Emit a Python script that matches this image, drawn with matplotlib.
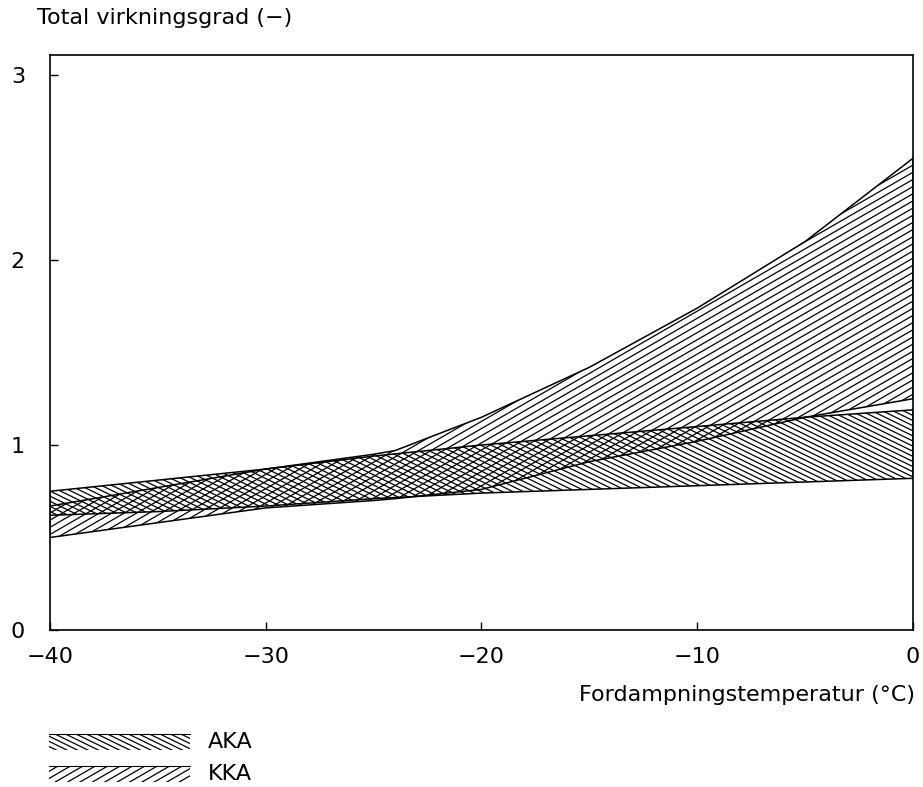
import numpy as np
import matplotlib

matplotlib.use("Agg")
import matplotlib.pyplot as plt
from matplotlib.patches import Polygon
from matplotlib.collections import LineCollection
from matplotlib.transforms import IdentityTransform

plt.rcParams["font.family"] = ["DejaVu Sans"]

# data
aka_temp = [-40, -35, -30, -25, -20, -15, -10, -5, 0]
aka_low = [0.62, 0.64, 0.67, 0.71, 0.74, 0.76, 0.78, 0.80, 0.82]
aka_high = [0.75, 0.81, 0.87, 0.94, 1.00, 1.05, 1.10, 1.15, 1.19]

kka_temp = [-40, -35, -30, -25, -24, -20, -15, -10, -5, 0]
kka_low = [0.50, 0.58, 0.66, 0.70, 0.71, 0.76, 0.91, 1.02, 1.15, 1.25]
kka_high = [0.67, 0.77, 0.87, 0.95, 0.97, 1.15, 1.42, 1.74, 2.10, 2.55]

x_ticks = [-40, -30, -20, -10, 0]
y_ticks = [0, 1, 2, 3]
series = ["AKA", "KKA"]

W, H = 923, 787
DPI = 100
AKA_HATCH = (-26, 4.6)
KKA_HATCH = (30, 6.2)


def hatch_lines(ax, poly, angle, spacing, lw=0.9):
    # parallel lines in pixel space, clipped to the polygon
    bb = ax.figure.bbox
    t = np.tan(np.radians(angle))
    d = spacing / np.cos(np.radians(angle))
    x0, x1 = bb.x0 - 10, bb.x1 + 10
    span = abs(t) * (x1 - x0) + bb.height + 40
    segs = []
    for c in np.arange(-span, span + bb.height, d):
        segs.append([(x0, c), (x1, c + t * (x1 - x0))])
    lc = LineCollection(segs, colors="black", linewidths=lw,
                        transform=IdentityTransform())
    ax.add_collection(lc, autolim=False)
    lc.set_clip_path(poly)


def band(ax, x, lo, hi, angle, spacing):
    verts = list(zip(x, lo)) + list(zip(x[::-1], hi[::-1]))
    poly = Polygon(verts, closed=True, fill=False, edgecolor="black", lw=1.1)
    ax.add_patch(poly)
    hatch_lines(ax, poly, angle, spacing)


fig = plt.figure(figsize=(W / DPI, H / DPI), dpi=DPI)
ax = fig.add_axes([50 / W, 1 - 630 / H, (913 - 50) / W, (630 - 55) / H])
ax.set_xlim(-40, 0)
ax.set_ylim(0, (630 - 55) / 185)

band(ax, aka_temp, aka_low, aka_high, *AKA_HATCH)
band(ax, kka_temp, kka_low, kka_high, *KKA_HATCH)

ax.set_xticks(x_ticks)
ax.set_xticklabels([f"{v:d}".replace("-", "\u2212") for v in x_ticks])
ax.set_yticks(y_ticks)
ax.tick_params(direction="in", length=6, width=1, labelsize=16)
ax.tick_params(axis="x", pad=12)
ax.tick_params(axis="y", pad=18)
for s in ax.spines.values():
    s.set_linewidth(1.2)

fig.text(37 / W, 1 - 18 / H, "Total virkningsgrad (\u2212)", fontsize=16,
         ha="left", va="center")
fig.text(915 / W, 1 - 695 / H, "Fordampningstemperatur (\u00b0C)", fontsize=16,
         ha="right", va="center")

# legend drawn in pixel coords
lax = fig.add_axes([0, 0, 1, 1], zorder=-1)
lax.set_xlim(0, W)
lax.set_ylim(H, 0)
lax.axis("off")
for i, (name, (ang, sp)) in enumerate(zip(series, [AKA_HATCH, KKA_HATCH])):
    yc = 742 + i * 32
    rect = Polygon([(49, yc - 8), (190, yc - 8), (190, yc + 8), (49, yc + 8)],
                   closed=True, fill=False, edgecolor="none")
    lax.add_patch(rect)
    hatch_lines(lax, rect, ang, sp)
    lax.plot([49, 190], [yc - 8, yc - 8], color="black", lw=0.8)
    lax.text(208, yc, name, fontsize=16, ha="left", va="center")

fig.savefig("out.png", dpi=DPI)
plt.close(fig)
